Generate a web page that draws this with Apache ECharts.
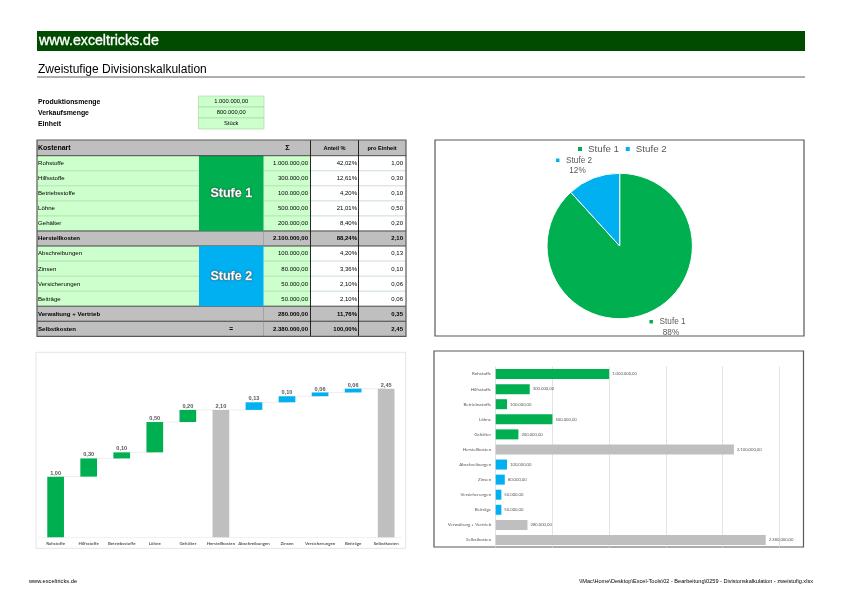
<!DOCTYPE html>
<html>
<head>
<meta charset="utf-8">
<title>Zweistufige Divisionskalkulation</title>
<style>
  html, body { margin: 0; padding: 0; background: #fff; }
  #main { width: 841px; height: 595px; }
</style>
<script src="https://cdn.jsdelivr.net/npm/echarts@6/dist/echarts.min.js"></script>
</head>
<body>
<div id="main"></div>
<script>
const FONT = '"Liberation Sans", Arial, sans-serif'
const CHART_FONT = 'Lato, "Liberation Sans", sans-serif'
const GREEN = '#00b050'
const BLUE = '#00b0f0'
const GREY = '#bfbfbf'
const LIGHT_GREEN = '#ccffcc'
const TEXT_GREY = '#595959'

// Kopfdaten
const infoLabels = ['Produktionsmenge', 'Verkaufsmenge', 'Einheit']
const infoValues = ['1.000.000,00', '800.000,00', 'Stück']

// Tabelle + Balkendiagramm
const costNames = ['Rohstoffe', 'Hilfsstoffe', 'Betriebsstoffe', 'Löhne', 'Gehälter', 'Herstellkosten',
  'Abschreibungen', 'Zinsen', 'Versicherungen', 'Beiträge', 'Verwaltung + Vertrieb', 'Selbstkosten']
const costValues = [1000000, 300000, 100000, 500000, 200000, 2100000, 100000, 80000, 50000, 50000, 280000, 2380000]
const costShares = [42.02, 12.61, 4.20, 21.01, 8.40, 88.24, 4.20, 3.36, 2.10, 2.10, 11.76, 100]
const costPerUnit = [1, 0.3, 0.1, 0.5, 0.2, 2.1, 0.125, 0.1, 0.0625, 0.0625, 0.35, 2.45]
// 1 = Stufe 1, 2 = Stufe 2, 0 = Summe
const costStages = [1, 1, 1, 1, 1, 0, 2, 2, 2, 2, 0, 0]

// Wasserfall
const stepNames = ['Rohstoffe', 'Hilfsstoffe', 'Betriebsstoffe', 'Löhne', 'Gehälter', 'Herstellkosten',
  'Abschreibungen', 'Zinsen', 'Versicherungen', 'Beiträge', 'Selbstkosten']
const stepValues = [1, 0.3, 0.1, 0.5, 0.2, 2.1, 0.125, 0.1, 0.0625, 0.0625, 2.45]
const stepBase = [0, 1, 1.3, 1.4, 1.9, 0, 2.1, 2.225, 2.325, 2.3875, 0]
const stepStages = [1, 1, 1, 1, 1, 0, 2, 2, 2, 2, 0]

// Kreis
const pieNames = ['Stufe 1', 'Stufe 2']
const pieValues = [2100000, 280000]

const stageColors = [GREY, GREEN, BLUE]
const fmt = (v) => v.toLocaleString('de-DE', { minimumFractionDigits: 2, maximumFractionDigits: 2 })

const rect = (x, y, w, h, fill, stroke, lineWidth, extra) => ({
  type: 'rect',
  silent: true,
  shape: { x, y, width: w, height: h },
  style: Object.assign({ fill: fill || 'transparent', stroke: stroke || null, lineWidth: lineWidth || 0 }, extra)
})
const line = (x1, y1, x2, y2, stroke, lineWidth) => ({
  type: 'line',
  silent: true,
  shape: { x1, y1, x2, y2 },
  style: { stroke, lineWidth }
})
const text = (x, y, str, size, opts) => ({
  type: 'text',
  silent: true,
  x,
  y,
  style: Object.assign({
    text: str,
    font: (opts && opts.weight ? opts.weight + ' ' : '') + size + 'px ' + FONT,
    fill: '#000',
    align: 'left',
    verticalAlign: 'middle'
  }, opts && opts.style)
})

// Seitenkopf, Kopfdaten, Tabelle: alles als graphic
function buildPage() {
  const els = [
    rect(37, 31, 768, 20, '#004b00'),
    text(39, 41.5, 'www.exceltricks.de', 14.2, { style: { fill: '#fff', stroke: '#fff', lineWidth: 0.35 } }),
    text(38, 69.5, 'Zweistufige Divisionskalkulation', 12),
    line(37, 77, 805, 77, '#333', 0.8),
    text(29, 581.5, 'www.exceltricks.de', 5.7),
    text(813, 581.5, '\\\\Mac\\Home\\Desktop\\Excel-Tools\\02 - Bearbeitung\\0259 - Divisionskalkulation - zweistufig.xlsx', 5.6, { style: { align: 'right' } })
  ]

  infoLabels.forEach((label, i) => {
    const y = 96 + i * 11
    els.push(text(38, y + 5.6, label, 6.9, { weight: 'bold' }))
    els.push(rect(198.5, y, 65.5, 11, LIGHT_GREEN, '#9fd79f', 0.6))
    els.push(text(231.2, y + 5.6, infoValues[i], 5.8, { style: { align: 'center' } }))
  })

  const X0 = 37, X1 = 199, X2 = 263.5, X3 = 310.5, X4 = 358.5, X5 = 406
  const rowTop = 155.7
  const rowH = 15.05

  els.push(rect(X0, 140, X5 - X0, rowTop - 140, GREY))
  els.push(text(38, 148, 'Kostenart', 7, { weight: 'bold' }))
  els.push(text(287.5, 148, 'Σ', 7.5, { weight: 'bold', style: { align: 'center' } }))
  els.push(text(334.5, 148, 'Anteil %', 5.6, { weight: 'bold', style: { align: 'center' } }))
  els.push(text(382, 148, 'pro Einheit', 5.6, { weight: 'bold', style: { align: 'center' } }))

  costNames.forEach((name, i) => {
    const y = rowTop + i * rowH
    const total = costStages[i] === 0
    const weight = total ? 'bold' : null
    els.push(rect(X0, y, X3 - X0, rowH, total ? GREY : LIGHT_GREEN))
    els.push(rect(X3, y, X5 - X3, rowH, total ? GREY : '#fff'))
    els.push(text(38, y + 7.8, name, 6.1, { weight }))
    els.push(text(X3 - 2.5, y + 7.8, fmt(costValues[i]), 6, { weight, style: { align: 'right' } }))
    els.push(text(X4 - 1.5, y + 7.8, fmt(costShares[i]) + '%', 6, { weight, style: { align: 'right' } }))
    els.push(text(X5 - 3, y + 7.8, fmt(costPerUnit[i]), 6, { weight, style: { align: 'right' } }))
    if (i > 0) {
      const heavy = total || costStages[i - 1] === 0
      els.push(line(X0, y, X5, y, heavy ? '#222' : '#a8c8a8', heavy ? 0.8 : 0.6))
    }
  })

  // Stufen-Bloecke
  const stufeStyle = { align: 'center', fill: '#fff', textShadowColor: '#222', textShadowBlur: 1.5, stroke: '#fff', lineWidth: 0.3 }
  els.push(rect(X1, rowTop, X2 - X1, rowH * 5, GREEN))
  els.push(text((X1 + X2) / 2, rowTop + rowH * 2.5, 'Stufe 1', 12.5, { weight: 'bold', style: stufeStyle }))
  els.push(rect(X1, rowTop + rowH * 6, X2 - X1, rowH * 4, BLUE))
  els.push(text((X1 + X2) / 2, rowTop + rowH * 8, 'Stufe 2', 12.5, { weight: 'bold', style: stufeStyle }))
  els.push(text((X1 + X2) / 2, rowTop + rowH * 11.5, '=', 6.5, { weight: 'bold', style: { align: 'center' } }))

  // Spaltenlinien + Rahmen
  const bottom = rowTop + rowH * 12
  els.push(line(X3, 140, X3, bottom, '#111', 0.9))
  els.push(line(X4, 140, X4, bottom, '#111', 0.9))
  els.push(line(X2, rowTop + rowH * 5, X2, rowTop + rowH * 6, '#888', 0.5))
  els.push(line(X2, rowTop + rowH * 10, X2, bottom, '#888', 0.5))
  els.push(rect(X0, 140, X5 - X0, bottom - 140, null, '#595959', 1.2))
  els.push(line(X0, rowTop, X5, rowTop, '#222', 0.8))

  // Diagrammrahmen
  els.push(rect(435, 140, 369, 196, '#fff', '#595959', 1.2))
  els.push(rect(36, 352.3, 369.7, 196, '#fff', '#e4e4e4', 1))
  els.push(rect(434, 351, 369.5, 196, '#fff', '#595959', 1.2))

  return els.map((el) => Object.assign(el, { z: 0 }))
}

const chart = echarts.init(document.getElementById('main'))

chart.setOption({
  animation: false,
  textStyle: { fontFamily: FONT },
  graphic: { elements: buildPage() },
  legend: {
    data: pieNames,
    left: 576,
    top: 144,
    padding: 0,
    icon: 'rect',
    itemWidth: 6,
    itemHeight: 6,
    itemGap: 4.7,
    textStyle: { fontSize: 9.8, color: TEXT_GREY }
  },
  grid: [
    { left: 39.1, top: 355.3, width: 363.6, height: 182 },
    { left: 495.7, top: 366.5, width: 283.6, height: 181 }
  ],
  xAxis: [
    {
      gridIndex: 0,
      type: 'category',
      data: stepNames,
      axisTick: { show: false },
      axisLine: { lineStyle: { color: '#e4e4e4', width: 0.6, type: 'dashed' } },
      axisLabel: { fontFamily: CHART_FONT, fontSize: 4.4, fontWeight: 'bold', color: TEXT_GREY, margin: 4, interval: 0 }
    },
    {
      gridIndex: 1,
      type: 'value',
      min: 0,
      max: 2500000,
      interval: 500000,
      axisLine: { show: false },
      axisTick: { show: false },
      axisLabel: { show: false },
      splitLine: { lineStyle: { color: '#dcdcdc', width: 0.8 } }
    }
  ],
  yAxis: [
    { gridIndex: 0, type: 'value', min: 0, max: 3, show: false },
    {
      gridIndex: 1,
      type: 'category',
      data: costNames,
      inverse: true,
      axisLine: { show: false },
      axisTick: { show: false },
      axisLabel: { fontFamily: CHART_FONT, fontSize: 4.5, color: TEXT_GREY, margin: 4.5, interval: 0 }
    }
  ],
  series: [
    {
      type: 'pie',
      center: [619.7, 246],
      radius: [0, 72.7],
      startAngle: 90,
      clockwise: true,
      percentPrecision: 0,
      itemStyle: { borderColor: '#fff', borderWidth: 1 },
      labelLine: { show: false },
      data: pieNames.map((name, i) => ({
        name,
        value: pieValues[i],
        itemStyle: { color: stageColors[i + 1] },
        label: {
          formatter: '{m|}  {t|{b}}\n{s|}{c|{d}%}',
          rich: {
            m: { width: 3.5, height: 3.5, backgroundColor: stageColors[i + 1] },
            s: { width: 7, height: 3 },
            t: { fontSize: 8.2, color: TEXT_GREY, lineHeight: 9.5 },
            c: { fontSize: 8.2, color: TEXT_GREY, lineHeight: 9.5 }
          }
        }
      })),
      labelLayout: (params) => (params.dataIndex === 0
        ? { x: 667.5, y: 326.5, align: 'center', verticalAlign: 'middle' }
        : { x: 574, y: 165, align: 'center', verticalAlign: 'middle' })
    },
    {
      // Treppenlinien
      type: 'custom',
      xAxisIndex: 0,
      yAxisIndex: 0,
      z: 1,
      silent: true,
      data: stepValues.slice(0, -1).map((v, i) => [i, stepBase[i] + v]),
      renderItem: (params, api) => {
        const a = api.coord([api.value(0), api.value(1)])
        const b = api.coord([api.value(0) + 1, api.value(1)])
        return {
          type: 'line',
          shape: { x1: a[0], y1: a[1], x2: b[0], y2: b[1] },
          style: { stroke: '#e6e6e6', lineWidth: 0.7 }
        }
      }
    },
    {
      type: 'bar',
      xAxisIndex: 0,
      yAxisIndex: 0,
      stack: 'step',
      barWidth: 16.7,
      silent: true,
      itemStyle: { color: 'transparent' },
      data: stepBase
    },
    {
      type: 'bar',
      xAxisIndex: 0,
      yAxisIndex: 0,
      stack: 'step',
      barWidth: 16.7,
      data: stepValues.map((value, i) => ({ value, itemStyle: { color: stageColors[stepStages[i]] } })),
      label: {
        show: true,
        position: 'top',
        distance: 0.5,
        fontSize: 5.6,
        fontWeight: 'bold',
        color: TEXT_GREY,
        formatter: (p) => fmt(p.value)
      }
    },
    {
      type: 'bar',
      xAxisIndex: 1,
      yAxisIndex: 1,
      barWidth: 10,
      data: costValues.map((value, i) => ({ value, itemStyle: { color: stageColors[costStages[i]] } })),
      label: {
        show: true,
        position: 'right',
        distance: 3,
        fontFamily: CHART_FONT,
        fontSize: 4.2,
        color: TEXT_GREY,
        formatter: (p) => fmt(p.value)
      }
    }
  ]
})
</script>
</body>
</html>
